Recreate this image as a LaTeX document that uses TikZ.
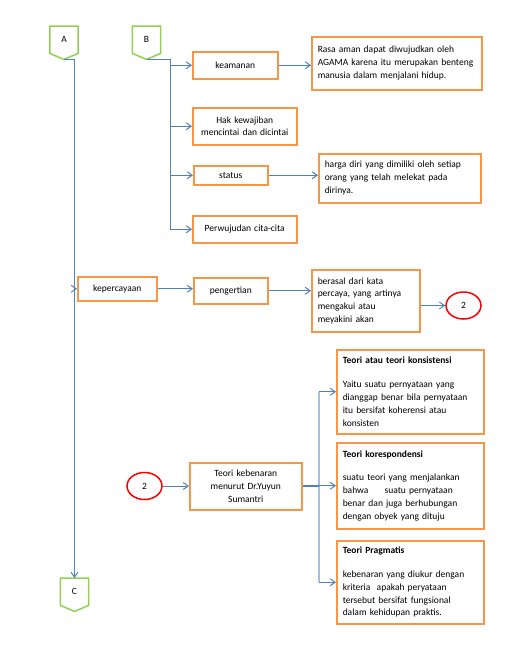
\documentclass[tikz,border=0pt]{standalone}
\usepackage{fontspec}
\setmainfont{Carlito}
\usetikzlibrary{arrows.meta,shapes.geometric}
\definecolor{boxorange}{HTML}{F79646}
\definecolor{tabgreen}{HTML}{92D050}
\definecolor{linkblue}{HTML}{4F81BD}
\definecolor{paleblue}{HTML}{A7BFDE}
\begin{document}
\begin{tikzpicture}[x=1pt,y=-1pt,
      font=\fontsize{9.5}{12.8}\selectfont,
      box/.style ={draw=boxorange, line width=1.5pt, anchor=north west, inner xsep=6pt, inner ysep=1pt, execute at end node={\endgraf\vskip6pt}},
      tab/.style ={minimum width=28pt, minimum height=27pt, inner sep=0pt, anchor=north},
      tabline/.style ={draw=tabgreen, line width=1.5pt, line join=miter},
      ref/.style ={ellipse, draw=red, line width=1.5pt, minimum width=35pt, minimum height=27pt, inner sep=0pt},
      link/.style ={draw=linkblue, line width=1pt, -{Straight Barb[length=5pt,width=7pt]}}]
   \useasboundingbox (0,0) rectangle (517,657);

   \node[tab] (A) at (64,26) {A};
   \node[tab] (B) at (146.5,26) {B};
   \node[tab] (C) at (74.5,578) {C};
   \coordinate (Atip) at ([yshift=-6pt]A.south);
   \coordinate (Btip) at ([yshift=-6pt]B.south);
   \coordinate (Ctip) at ([yshift=-6pt]C.south);
   \draw[tabline] (A.north west) -- (A.north east) -- (A.south east) -- (Atip) -- (A.south west) -- cycle;
   \draw[tabline] (B.north west) -- (B.north east) -- (B.south east) -- (Btip) -- (B.south west) -- cycle;
   \draw[tabline] (C.north west) -- (C.north east) -- (C.south east) -- (Ctip) -- (C.south west) -- cycle;

   \node[box, text width=73pt, align=center, minimum height=27pt] (keamanan) at (192,51) {keamanan};
   \node[box, text width=158pt, align=left, minimum height=53pt] (rasa) at (311,36) {Rasa aman dapat diwujudkan oleh\\AGAMA karena itu merupakan benteng\\manusia dalam menjalani hidup.};
   \node[box, text width=92pt, align=center, minimum height=37pt] (hak) at (192,107) {Hak kewajiban\\mencintai dan dicintai};
   \node[box, text width=62pt, align=center, minimum height=19pt] (status) at (193,165) {status};
   \node[box, text width=150pt, align=left, minimum height=49pt] (harga) at (318,153) {harga diri yang dimiliki oleh setiap\\orang yang telah melekat pada\\dirinya.};
   \node[box, text width=92pt, align=center, minimum height=27pt] (cita) at (192,215) {Perwujudan cita-cita};

   \node[box, text width=67pt, align=center, minimum height=24pt] (percaya) at (77,276) {kepercayaan};
   \node[box, text width=62pt, align=center, minimum height=26pt] (pengertian) at (193,277) {pengertian};
   \node[box, text width=96pt, align=left, minimum height=62pt] (asal) at (311,269) {berasal dari kata\\percaya, yang artinya\\mengakui atau\\meyakini akan};
   \node[ref] (dua) at (463.5,305.5) {2};

   \node[ref] (duab) at (144.5,486) {2};
   \node[box, text width=100pt, align=center, minimum height=47pt] (kebenaran) at (189,462) {Teori kebenaran\\menurut Dr.Yuyun\\Sumantri};
   \node[box, text width=135pt, align=left, minimum height=84pt] (konsistensi) at (336,349) {\textbf{Teori atau teori konsistensi}\\[11pt]Yaitu suatu pernyataan yang\\dianggap benar bila pernyataan\\itu bersifat koherensi atau\\konsisten};
   \node[box, text width=135pt, align=left, minimum height=86pt] (korespondensi) at (336,442) {\textbf{Teori korespondensi}\\[11pt]suatu teori yang menjalankan\\bahwa\hspace{13pt} suatu pernyataan\\benar dan juga berhubungan\\dengan obyek yang dituju};
   \node[box, text width=135pt, align=left, minimum height=83pt] (pragmatis) at (336,540) {\textbf{Teori Pragmatis}\\[11pt]kebenaran yang diukur dengan\\kriteria~ apakah peryataan\\tersebut bersifat fungsional\\dalam kehidupan praktis.};

   \coordinate (Bbus) at (170,0);
   \coordinate (Tbus) at (319,0);

   \draw[link] (Atip) -| (C.north);
   \draw[link] (percaya.west -| C.north) to (percaya.west);

   \draw[link] (Btip) -| (Bbus |- cita.west) to (cita.west);
   \draw[link] (Bbus |- keamanan.west) to (keamanan.west);
   \draw[link] (Bbus |- hak.west) to (hak.west);
   \draw[link] (Bbus |- status.west) to (status.west);
   \draw[link] (keamanan.east) to (keamanan.east -| rasa.west);
   \draw[link] (status.east) to (status.east -| harga.west);

   \draw[link] (percaya.east) to (percaya.east -| pengertian.west);
   \draw[link] (pengertian.east) to (pengertian.east -| asal.west);
   \draw[link] (dua.west -| asal.east) to (dua.west);

   \draw[link] (duab.east) to (duab.east -| kebenaran.west);
   \draw[draw=paleblue, line width=2pt] (Tbus |- konsistensi.west) to (Tbus |- pragmatis.west);
   \draw[draw=linkblue, line width=2pt] (kebenaran.east) to (kebenaran.east -| Tbus);
   \draw[link] (Tbus |- konsistensi.west) to (konsistensi.west);
   \draw[link] (Tbus |- korespondensi.west) to (korespondensi.west);
   \draw[link] (Tbus |- pragmatis.west) to (pragmatis.west);
 \end{tikzpicture}
\end{document}
